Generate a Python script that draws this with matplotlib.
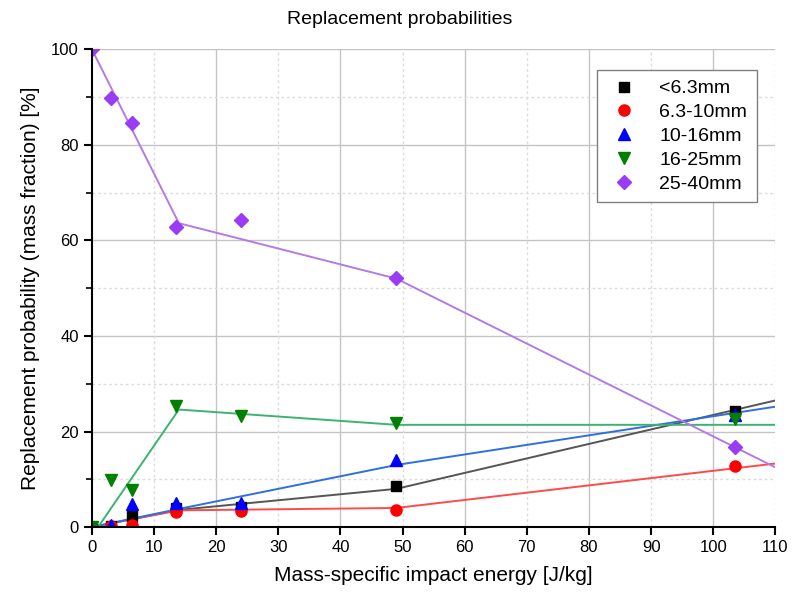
import numpy as np
import matplotlib.pyplot as plt
from matplotlib.ticker import MultipleLocator

plt.rcParams['font.family'] = ['Liberation Sans', 'DejaVu Sans']

# measured points
energy = [0, 3, 6.5, 13.5, 24, 49, 103.5]
p_63 = [0, 0.3, 2.4, 4.0, 4.3, 8.5, 24.3]
p_10 = [0, 0.3, 0.5, 3.2, 3.3, 3.5, 12.8]
p_16 = [0, 0.5, 4.8, 5.0, 5.0, 14.0, 23.5]
p_25 = [0, 9.8, 7.8, 25.3, 23.2, 21.8, 22.7]
p_40 = [100, 89.8, 84.5, 62.8, 64.3, 52.2, 16.8]

# piecewise fit lines
fit_x = [0, 14, 49, 110]
fit_63 = [0, 3.6, 8.0, 26.5]
fit_10 = [0, 3.5, 4.0, 13.3]
fit_16 = [0, 3.8, 13.0, 25.2]
fit_25_x = [1, 14, 49, 110]
fit_25 = [0, 24.6, 21.4, 21.4]
fit_40 = [100, 63.6, 52.0, 12.5]

labels = ['<6.3mm', '6.3-10mm', '10-16mm', '16-25mm', '25-40mm']

fig = plt.figure(figsize=(7.92, 6.01), dpi=100)
ax = fig.add_axes([0.116, 0.123, 0.863, 0.795])

# fit lines first, markers on top
ax.plot(fit_x, fit_63, color='#555555', lw=1.4)
ax.plot(fit_x, fit_10, color='#ff4a4a', lw=1.4)
ax.plot(fit_x, fit_16, color='#2f6fe0', lw=1.4)
ax.plot(fit_25_x, fit_25, color='#3cb371', lw=1.4)
ax.plot(fit_x, fit_40, color='#b47ae6', lw=1.4)

ms = 8
ax.plot(energy, p_63, 's', color='black', ms=ms - 1, label=labels[0])
ax.plot(energy, p_10, 'o', color='red', ms=ms, label=labels[1])
ax.plot(energy, p_16, '^', color='blue', ms=ms + 1, label=labels[2])
ax.plot(energy, p_25, 'v', color='green', ms=ms + 1, label=labels[3])
ax.plot(energy, p_40, 'D', color='#9b3cf5', ms=ms - 1, label=labels[4])

ax.set_xlim(0, 110)
ax.set_ylim(0, 100)
ax.xaxis.set_major_locator(MultipleLocator(10))
ax.yaxis.set_major_locator(MultipleLocator(20))
ax.yaxis.set_minor_locator(MultipleLocator(10))

# grid: solid every 20, dotted in between
for v in range(20, 101, 20):
    ax.axvline(v, color='#c4c4c4', lw=1, zorder=0)
    ax.axhline(v, color='#c4c4c4', lw=1, zorder=0)
for v in range(10, 111, 20):
    ax.axvline(v, color='#dcdcdc', lw=1, ls=(0, (2, 2)), zorder=0)
for v in range(10, 100, 20):
    ax.axhline(v, color='#dcdcdc', lw=1, ls=(0, (2, 2)), zorder=0)

ax.spines['top'].set_visible(False)
ax.spines['right'].set_visible(False)
ax.spines['left'].set_linewidth(1.5)
ax.spines['bottom'].set_linewidth(1.5)
ax.tick_params(which='major', length=6, width=1.5, labelsize=12)
ax.tick_params(which='minor', length=4, width=1.2)

ax.set_xlabel('Mass-specific impact energy [J/kg]', fontsize=15, labelpad=8)
ax.set_ylabel('Replacement probability (mass fraction) [%]', fontsize=15, labelpad=8)
fig.text(0.505, 0.968, 'Replacement probabilities', fontsize=14,
         ha='center', va='center')

leg = ax.legend(loc='upper right', bbox_to_anchor=(0.987, 0.977), fontsize=14,
                fancybox=False, edgecolor='#808080', framealpha=1,
                handletextpad=0.9, borderpad=0.5, labelspacing=0.32,
                markerscale=1.0, handlelength=1.8)
leg.get_frame().set_linewidth(1)

fig.savefig('out.png', dpi=100)
